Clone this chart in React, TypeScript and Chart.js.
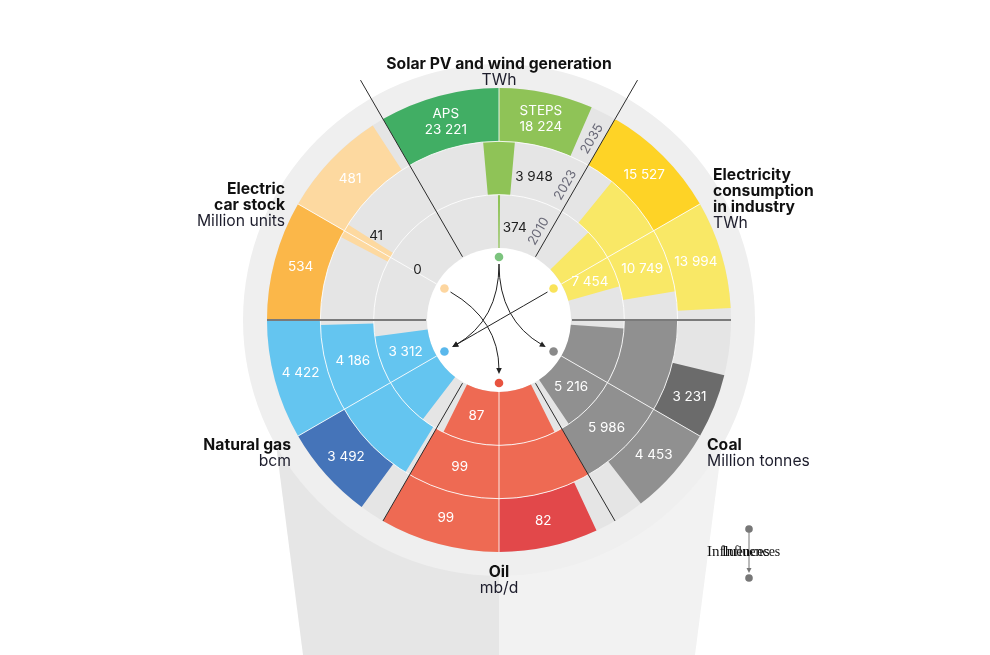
import React, { useEffect, useRef } from "react";
import { Chart, registerables } from "chart.js";

Chart.register(...registerables);

// ---------- data ----------
const sectorNames = [
  "Solar PV and wind generation",
  "Electricity consumption in industry",
  "Coal",
  "Oil",
  "Natural gas",
  "Electric car stock",
];
const yearLabels = ["2010", "2023", "2035"];
const scenarioLabels = ["APS", "STEPS"];
const values2010 = [374, 7454, 5216, 87, 3312, 0];
const values2023 = [3948, 10749, 5986, 99, 4186, 41];
const valuesAPS2035 = [23221, 15527, 3231, 82, 3492, 534];
const valuesSTEPS2035 = [18224, 13994, 4453, 99, 4422, 481];
const mainColors = ["#8fc357", "#f9e866", "#909090", "#ee6a53", "#64c5f0", "#fdd9a0"];
const apsColors = ["#41ae64", "#fed326", "#6b6b6b", "#e2484a", "#4574b9", "#fbb749"];
const dotColors = ["#7cc47e", "#f9e35a", "#8a8a8a", "#e8533f", "#5ab8ec", "#fdd6a0"];
const influenceFrom = [0, 0, 5, 1];
const influenceTo = [4, 2, 3, 4];
const legendText = "Influences";

// ---------- derived tables for the library ----------
const HALF = 30;
const CLEAR = "rgba(0,0,0,0)";
const sectorMax = sectorNames.map((_, i) =>
  Math.max(values2010[i], values2023[i], valuesAPS2035[i], valuesSTEPS2035[i])
);
const span = (v: number, i: number) => (v / sectorMax[i]) * HALF;

function symRing(vals: number[]) {
  const data: number[] = [];
  const colors: string[] = [];
  vals.forEach((v, i) => {
    const s = span(v, i);
    data.push(HALF - s, s, s, HALF - s);
    colors.push(CLEAR, mainColors[i], mainColors[i], CLEAR);
  });
  return { data, colors };
}
function scenRing() {
  const data: number[] = [];
  const colors: string[] = [];
  sectorNames.forEach((_, i) => {
    const a = span(valuesAPS2035[i], i);
    const s = span(valuesSTEPS2035[i], i);
    data.push(HALF - a, a, s, HALF - s);
    colors.push(CLEAR, apsColors[i], mainColors[i], CLEAR);
  });
  return { data, colors };
}

const fmt = (n: number) => String(n).replace(/\B(?=(\d{3})+(?!\d))/g, " ");

type LabelSpec = { ds: number; idx: number; lines: string[] };
const labelSpecs: LabelSpec[] = [];
sectorNames.forEach((_, i) => {
  labelSpecs.push({
    ds: 0,
    idx: 4 * i + 1,
    lines: i === 0 ? [scenarioLabels[0], fmt(valuesAPS2035[i])] : [fmt(valuesAPS2035[i])],
  });
  labelSpecs.push({
    ds: 0,
    idx: 4 * i + 2,
    lines: i === 0 ? [scenarioLabels[1], fmt(valuesSTEPS2035[i])] : [fmt(valuesSTEPS2035[i])],
  });
  labelSpecs.push({ ds: 1, idx: 4 * i + 2, lines: [fmt(values2023[i])] });
  labelSpecs.push({ ds: 2, idx: 4 * i + 2, lines: [fmt(values2010[i])] });
});

const FONT = 'Inter, "Noto Sans", sans-serif';

function arrowHead(ctx: CanvasRenderingContext2D, x: number, y: number, ang: number, len = 6, w = 2.8) {
  ctx.beginPath();
  ctx.moveTo(x, y);
  ctx.lineTo(x - len * Math.cos(ang) + w * Math.sin(ang), y - len * Math.sin(ang) - w * Math.cos(ang));
  ctx.lineTo(x - len * Math.cos(ang) - w * Math.sin(ang), y - len * Math.sin(ang) + w * Math.cos(ang));
  ctx.closePath();
  ctx.fill();
}

const decor = {
  id: "decor",
  beforeDatasetsDraw(chart: any) {
    const ctx: CanvasRenderingContext2D = chart.ctx;
    const a0 = chart.getDatasetMeta(0).data[0];
    const inner = chart.getDatasetMeta(2).data[0].innerRadius;
    const cx = a0.x, cy = a0.y, R = a0.outerRadius;
    const H = chart.height;
    ctx.save();
    // lamp-shade funnel
    ctx.fillStyle = "#e6e6e6";
    ctx.beginPath();
    ctx.moveTo(cx - R - 7, cy);
    ctx.lineTo(cx, cy);
    ctx.lineTo(cx, H);
    ctx.lineTo(cx - R + 36, H);
    ctx.closePath();
    ctx.fill();
    ctx.fillStyle = "#f2f2f2";
    ctx.beginPath();
    ctx.moveTo(cx + R + 7, cy);
    ctx.lineTo(cx, cy);
    ctx.lineTo(cx, H);
    ctx.lineTo(cx + R - 36, H);
    ctx.closePath();
    ctx.fill();
    // outer light ring
    ctx.fillStyle = "#efefef";
    ctx.beginPath();
    ctx.arc(cx, cy, R + 24, 0, Math.PI * 2);
    ctx.fill();
    // grey disc
    ctx.fillStyle = "#e5e5e5";
    ctx.beginPath();
    ctx.arc(cx, cy, R, 0, Math.PI * 2);
    ctx.fill();
    // white centre
    ctx.fillStyle = "#ffffff";
    ctx.beginPath();
    ctx.arc(cx, cy, inner, 0, Math.PI * 2);
    ctx.fill();
    ctx.restore();
  },
  afterDatasetsDraw(chart: any) {
    const ctx: CanvasRenderingContext2D = chart.ctx;
    const m0 = chart.getDatasetMeta(0).data;
    const m1 = chart.getDatasetMeta(1).data;
    const m2 = chart.getDatasetMeta(2).data;
    const cx = m0[0].x, cy = m0[0].y, R = m0[0].outerRadius;
    const r1 = m0[0].innerRadius; // 2023/2035 boundary
    const r2 = m1[0].innerRadius; // 2010/2023 boundary
    const inner = m2[0].innerRadius;
    const pt = (r: number, a: number) => [cx + r * Math.cos(a), cy + r * Math.sin(a)];
    ctx.save();

    // white ring boundaries
    ctx.strokeStyle = "rgba(255,255,255,0.85)";
    ctx.lineWidth = 1;
    [r1, r2].forEach((r) => {
      ctx.beginPath();
      ctx.arc(cx, cy, r, 0, Math.PI * 2);
      ctx.stroke();
    });
    // white sector centre lines
    sectorNames.forEach((_, i) => {
      const a = m0[4 * i + 1].endAngle;
      const from = i === 0 ? r1 : inner;
      const [x1, y1] = pt(from, a);
      const [x2, y2] = pt(R, a);
      ctx.beginPath();
      ctx.moveTo(x1, y1);
      ctx.lineTo(x2, y2);
      ctx.stroke();
    });

    // sector boundary lines
    sectorNames.forEach((_, i) => {
      const a = m0[4 * i].startAngle;
      let outer = R, color = "#2b2b2b", w = 1;
      if (i === 0 || i === 1) outer = R + 45;
      if (i === 2 || i === 5) {
        color = "#7a7a7a";
        w = 2;
      }
      const [x1, y1] = pt(inner + 1, a);
      const [x2, y2] = pt(outer, a);
      ctx.strokeStyle = color;
      ctx.lineWidth = w;
      ctx.beginPath();
      ctx.moveTo(x1, y1);
      ctx.lineTo(x2, y2);
      ctx.stroke();
    });

    // centre dots
    const dotR = inner - 9;
    const dots = sectorNames.map((_, i) => pt(dotR, m0[4 * i + 1].endAngle));
    // influence arrows
    ctx.strokeStyle = "#222";
    ctx.fillStyle = "#222";
    ctx.lineWidth = 1;
    influenceFrom.forEach((f, k) => {
      const A = dots[f], B = dots[influenceTo[k]];
      const ua = [cx - A[0], cy - A[1]];
      const la = Math.hypot(ua[0], ua[1]);
      const ub = [cx - B[0], cy - B[1]];
      const lb = Math.hypot(ub[0], ub[1]);
      const P0 = [A[0] + (7 * ua[0]) / la, A[1] + (7 * ua[1]) / la];
      const P2 = [B[0] + (9 * ub[0]) / lb, B[1] + (9 * ub[1]) / lb];
      const ang = Math.atan2(P2[1] - cy, P2[0] - cx);
      const E = [P2[0] - 4 * Math.cos(ang), P2[1] - 4 * Math.sin(ang)];
      ctx.beginPath();
      ctx.moveTo(P0[0], P0[1]);
      ctx.quadraticCurveTo(cx, cy, E[0], E[1]);
      ctx.stroke();
      arrowHead(ctx, P2[0], P2[1], ang);
    });
    dots.forEach((d, i) => {
      ctx.fillStyle = dotColors[i];
      ctx.beginPath();
      ctx.arc(d[0], d[1], 4.3, 0, Math.PI * 2);
      ctx.fill();
    });

    // value labels
    ctx.font = `400 13.5px ${FONT}`;
    ctx.textBaseline = "middle";
    ctx.textAlign = "center";
    labelSpecs.forEach((s) => {
      const arc = chart.getDatasetMeta(s.ds).data[s.idx];
      const midR = (arc.innerRadius + arc.outerRadius) / 2;
      const widthDeg = ((arc.endAngle - arc.startAngle) * 180) / Math.PI;
      let a = (arc.startAngle + arc.endAngle) / 2;
      let color = "#ffffff";
      let dy = 0;
      if (widthDeg < 6) {
        const tw = Math.max(...s.lines.map((l) => ctx.measureText(l).width));
        a = arc.endAngle + (tw / 2 + 3) / midR;
        color = "#1e1e1e";
        dy = 5;
      }
      const [x, y] = pt(midR, a);
      ctx.fillStyle = color;
      const n = s.lines.length;
      s.lines.forEach((l, j) => {
        ctx.fillText(l, x, y + dy + (j - (n - 1) / 2) * 16);
      });
    });

    // year labels along the boundary line
    const yb = m0[4].startAngle;
    const ringMids = [(inner + r2) / 2, (r2 + r1) / 2, (r1 + R) / 2];
    ctx.fillStyle = "#6a6a78";
    ctx.font = `400 13px ${FONT}`;
    yearLabels.forEach((yl, j) => {
      const [x, y] = pt(ringMids[j] - 2, yb);
      ctx.save();
      ctx.translate(x, y);
      ctx.rotate(yb);
      ctx.fillText(yl, 0, -10);
      ctx.restore();
    });

    // sector titles
    const title = (lines: [string, boolean][], x: number, y: number, align: CanvasTextAlign) => {
      ctx.textAlign = align;
      lines.forEach(([t, bold], j) => {
        ctx.font = `${bold ? 700 : 400} 15.7px ${FONT}`;
        ctx.fillStyle = bold ? "#111" : "#1d1d2c";
        ctx.fillText(t, x, y + j * 16);
      });
    };
    title([["Solar PV and wind generation", true], ["TWh", false]], cx, 64, "center");
    title(
      [["Electricity", true], ["consumption", true], ["in industry", true], ["TWh", false]],
      cx + 214, 175, "left"
    );
    title([["Electric", true], ["car stock", true], ["Million units", false]], cx - 214, 189, "right");
    title([["Natural gas", true], ["bcm", false]], cx - 208, 445, "right");
    title([["Coal", true], ["Million tonnes", false]], cx + 208, 445, "left");
    title([["Oil", true], ["mb/d", false]], cx, 572, "center");

    // legend
    const lx = 749;
    ctx.fillStyle = "#777";
    ctx.strokeStyle = "#777";
    ctx.beginPath();
    ctx.arc(lx, 529, 3.8, 0, Math.PI * 2);
    ctx.fill();
    ctx.beginPath();
    ctx.arc(lx, 578, 3.8, 0, Math.PI * 2);
    ctx.fill();
    ctx.lineWidth = 1;
    ctx.beginPath();
    ctx.moveTo(lx, 532);
    ctx.lineTo(lx, 570);
    ctx.stroke();
    arrowHead(ctx, lx, 573, Math.PI / 2, 5, 2.5);
    ctx.fillStyle = "#111";
    ctx.textAlign = "left";
    ctx.font = "15px serif";
    ctx.fillText(legendText, 707, 552);
    ctx.font = "14px serif";
    ctx.fillText(legendText, 722, 552);

    ctx.restore();
  },
};

export default function App() {
  const ref = useRef<HTMLCanvasElement>(null);
  useEffect(() => {
    const canvas = ref.current!;
    const r2035 = scenRing();
    const r2023 = symRing(values2023);
    const r2010 = symRing(values2010);
    const labels: string[] = [];
    sectorNames.forEach((s) => labels.push(s + " gap", s + " APS side", s + " STEPS side", s + " gap"));
    const chart = new Chart(canvas, {
      type: "doughnut",
      data: {
        labels,
        datasets: [
          { label: yearLabels[2], data: r2035.data, backgroundColor: r2035.colors, borderWidth: 0, hoverOffset: 0 },
          { label: yearLabels[1], data: r2023.data, backgroundColor: r2023.colors, borderWidth: 0, hoverOffset: 0 },
          { label: yearLabels[0], data: r2010.data, backgroundColor: r2010.colors, borderWidth: 0, hoverOffset: 0 },
        ],
      },
      options: {
        responsive: false,
        animation: false,
        events: [],
        rotation: -HALF,
        cutout: 72,
        layout: { padding: { left: 267, right: 259, top: 88, bottom: 103 } },
        plugins: { legend: { display: false }, tooltip: { enabled: false } },
      } as any,
      plugins: [decor],
    });
    return () => chart.destroy();
  }, []);
  return (
    <div style={{ position: "absolute", left: 0, top: 0, width: 990, height: 655, background: "#fff" }}>
      <canvas ref={ref} width={990} height={655} style={{ display: "block" }} />
    </div>
  );
}
